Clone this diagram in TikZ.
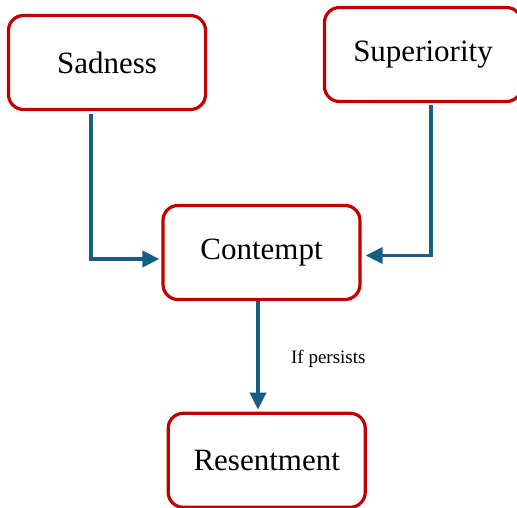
\documentclass[tikz,border=0pt]{standalone}
\usepackage{fontspec}
\setmainfont{Liberation Serif}
\usetikzlibrary{positioning,arrows.meta}
\definecolor{boxred}{RGB}{192,0,0}
\definecolor{arrowblue}{RGB}{24,94,130}
\tikzstyle{emotion} = [draw=boxred,
					   line width=3.2pt,
					   rounded corners=15pt,
					   minimum width=197pt,
					   minimum height=94pt,
					   align=center,
					   font=\fontsize{31}{36}\selectfont]
\tikzstyle{flow} = [draw=arrowblue,
					line width=3.6pt,
					-{Triangle[length=17pt,width=16pt]}]

\begin{document}
\begin{tikzpicture}[x=1pt,y=-1pt]
	\useasboundingbox (0,0) rectangle (517,508);

	% boxes
	\node[emotion] (sad) at (107,62.5) {Sadness};
	\node[emotion] (sup) at (423,54.5) {Superiority};
	\node[emotion] (con) at (261.5,252.5) {Contempt};
	\node[emotion] (res) at (266.7,460.3) {Resentment};

	% arrows
	\draw[flow, shorten <=3pt, shorten >=2pt] ([xshift=-16pt]sad.south) |- ([yshift=-6.5pt]con.west);
	\draw[flow, shorten <=2pt, shorten >=4pt] ([xshift=8pt]sup.south) |- ([yshift=-3pt]con.east);
	\draw[flow, shorten >=2pt] ([xshift=-3.5pt]con.south) -- ([xshift=-3.5pt]con.south |- res.north)
		node[midway, right=28pt, yshift=-2pt, font=\fontsize{19}{22}\selectfont] (persist) {If persists};
\end{tikzpicture}
\end{document}
